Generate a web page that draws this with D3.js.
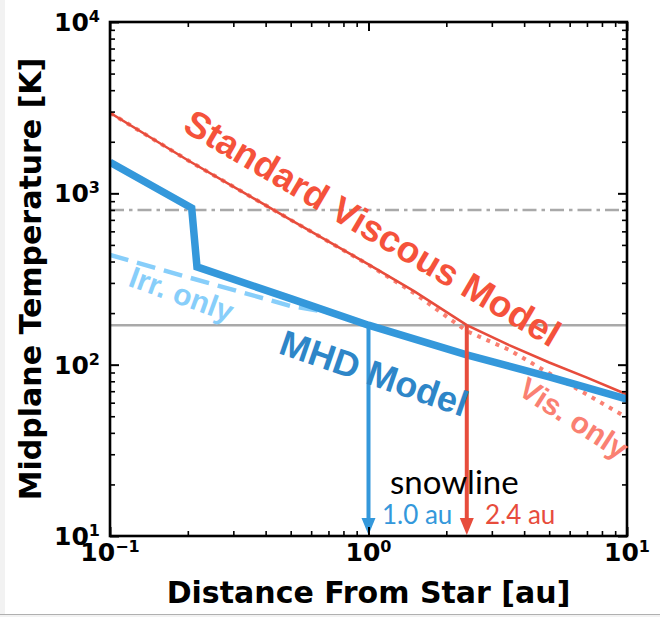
<!DOCTYPE html>
<html>
<head>
<meta charset="utf-8">
<script src="https://cdn.jsdelivr.net/npm/d3@7"></script>
<style>
  body { margin: 0; background: #fff; }
  svg { display: block; }
</style>
</head>
<body>
<div id="chart"></div>
<script>
var svgWidth = 660;
var svgHeight = 617;

var margin = { top: 22, right: 33, bottom: 81, left: 110 };
var width = svgWidth - margin.left - margin.right;
var height = svgHeight - margin.top - margin.bottom;

// data (distance in au, temperature in K)
var stdR = [0.1, 0.2, 0.5, 1, 1.5, 2.4, 3.5, 5, 7, 10];
var stdT = [2950, 1560, 700, 385, 269, 170, 130, 103, 84, 67];

var visR = [0.1, 0.2, 0.5, 1, 1.5, 2.4, 3.5, 5, 7, 10];
var visT = [2950, 1560, 700, 383, 262, 157, 122, 89, 67, 49];

var irrR = [0.1, 0.2, 0.5, 0.73, 1];
var irrT = [437, 324, 220, 200, 172];

var mhdR = [0.1, 0.207, 0.217, 0.5, 1, 2.4, 5, 10];
var mhdT = [1520, 820, 372, 243, 170, 114, 85, 63];

var refT = [800, 170];          // dash-dot, solid
var snowR = [1.0, 2.4];
var snowT = 170;
var snowLabels = ["1.0 au", "2.4 au"];

var xMajor = [0.1, 1, 10];
var xExp = ["\u22121", "0", "1"];
var yMajor = [10, 100, 1000, 10000];
var yExp = ["1", "2", "3", "4"];

var svg = d3.select("#chart")
    .append("svg")
    .attr("width", svgWidth)
    .attr("height", svgHeight);

// faint page edge like the screenshot
svg.append("rect").attr("x", 0).attr("y", 0).attr("width", 5).attr("height", svgHeight).attr("fill", "#f2f2f2");
svg.append("rect").attr("x", 0).attr("y", 614).attr("width", svgWidth).attr("height", 3).attr("fill", "#f2f2f2");
svg.append("line").attr("x1", 0).attr("x2", svgWidth).attr("y1", 614.5).attr("y2", 614.5)
    .attr("stroke", "#b0b0b0").attr("stroke-width", 1);

var chartGroup = svg.append("g")
    .attr("transform", `translate(${margin.left}, ${margin.top})`);

var x = d3.scaleLog().domain([0.1, 10]).range([0, width]);
var y = d3.scaleLog().domain([10, 10000]).range([height, 0]);

chartGroup.append("clipPath").attr("id", "clip")
    .append("rect").attr("width", width).attr("height", height);

var plot = chartGroup.append("g").attr("clip-path", "url(#clip)");

// minor tick values
var xMinor = [], yMinor = [];
[0.1, 1].forEach(function(d) { for (var k = 2; k < 10; k++) xMinor.push(d * k); });
[10, 100, 1000].forEach(function(d) { for (var k = 2; k < 10; k++) yMinor.push(d * k); });

function tickAxis(axisFn, scale, vals, size, sw, tr) {
    var g = chartGroup.append("g")
        .attr("transform", tr)
        .call(axisFn(scale).tickValues(vals).tickSize(-size).tickFormat(""));
    g.select(".domain").remove();
    g.selectAll(".tick line").attr("stroke", "#000").attr("stroke-width", sw);
}
tickAxis(d3.axisBottom, x, xMajor, 9, 2, `translate(0, ${height})`);
tickAxis(d3.axisBottom, x, xMinor, 5, 1.6, `translate(0, ${height})`);
tickAxis(d3.axisTop, x, xMajor, 9, 2, "translate(0, 0)");
tickAxis(d3.axisTop, x, xMinor, 5, 1.6, "translate(0, 0)");
tickAxis(d3.axisLeft, y, yMajor, 9, 2, "translate(0, 0)");
tickAxis(d3.axisLeft, y, yMinor, 5, 1.6, "translate(0, 0)");
tickAxis(d3.axisRight, y, yMajor, 9, 2, `translate(${width}, 0)`);
tickAxis(d3.axisRight, y, yMinor, 5, 1.6, `translate(${width}, 0)`);

// reference lines
plot.append("line")
    .attr("x1", 0).attr("x2", width)
    .attr("y1", y(refT[0])).attr("y2", y(refT[0]))
    .attr("stroke", "#a9a9a9").attr("stroke-width", 2.6)
    .attr("stroke-dasharray", "14,5,3.5,5");
plot.append("line")
    .attr("x1", 0).attr("x2", width)
    .attr("y1", y(refT[1])).attr("y2", y(refT[1]))
    .attr("stroke", "#a9a9a9").attr("stroke-width", 2.6);

var line = d3.line().x(d => x(d[0])).y(d => y(d[1]));

plot.append("path")
    .attr("d", line(d3.zip(visR, visT)))
    .attr("fill", "none").attr("stroke", "#fa8072")
    .attr("stroke-width", 4).attr("stroke-dasharray", "4,6");

plot.append("path")
    .attr("d", line(d3.zip(stdR, stdT)))
    .attr("fill", "none").attr("stroke", "#e74c3c")
    .attr("stroke-width", 2.6);

plot.append("path")
    .attr("d", line(d3.zip(irrR, irrT)))
    .attr("fill", "none").attr("stroke", "#87cefa")
    .attr("stroke-width", 4.5).attr("stroke-dasharray", "19,9");

plot.append("path")
    .attr("d", line(d3.zip(mhdR, mhdT)))
    .attr("fill", "none").attr("stroke", "#3498db")
    .attr("stroke-width", 7.5).attr("stroke-linejoin", "miter");

// snowline arrows
var snowColors = ["#3498db", "#e74c3c"];
snowR.forEach(function(r, i) {
    var sx = x(r);
    plot.append("line")
        .attr("x1", sx).attr("x2", sx)
        .attr("y1", y(snowT)).attr("y2", height - 16)
        .attr("stroke", snowColors[i]).attr("stroke-width", 4);
    plot.append("path")
        .attr("d", `M${sx - 7},${height - 18} L${sx + 7},${height - 18} L${sx},${height - 1} Z`)
        .attr("fill", snowColors[i]);
});

// frame
chartGroup.append("rect")
    .attr("width", width).attr("height", height)
    .attr("fill", "none").attr("stroke", "#000").attr("stroke-width", 2.6);

// tick labels
var tickFont = "'DejaVu Sans', sans-serif";
xMajor.forEach(function(v, i) {
    var t = chartGroup.append("text")
        .attr("x", x(v)).attr("y", height + 25)
        .attr("text-anchor", "middle")
        .style("font-family", tickFont).style("font-weight", "bold").style("font-size", "25px");
    t.append("tspan").text("10");
    t.append("tspan").attr("dy", -9).style("font-size", "16px").text(xExp[i]);
});
yMajor.forEach(function(v, i) {
    var t = chartGroup.append("text")
        .attr("x", -10).attr("y", y(v) + 9)
        .attr("text-anchor", "end")
        .style("font-family", tickFont).style("font-weight", "bold").style("font-size", "25px");
    t.append("tspan").text("10");
    t.append("tspan").attr("dy", -9).style("font-size", "16px").text(yExp[i]);
});

// axis titles
chartGroup.append("text")
    .attr("x", width / 2).attr("y", height + 67)
    .attr("text-anchor", "middle")
    .style("font-family", tickFont).style("font-weight", "bold").style("font-size", "30px")
    .text("Distance From Star [au]");

chartGroup.append("text")
    .attr("transform", `translate(${41 - margin.left}, ${height / 2}) rotate(-90)`)
    .attr("text-anchor", "middle")
    .style("font-family", tickFont).style("font-weight", "bold").style("font-size", "30px")
    .text("Midplane Temperature [K]");

// curve annotations
var annoFont = "'Liberation Sans', Arial, sans-serif";
function anno(txt, cx, cy, ang, size, color) {
    svg.append("text")
        .attr("transform", `translate(${cx}, ${cy}) rotate(${ang})`)
        .attr("text-anchor", "middle")
        .style("font-family", annoFont).style("font-weight", "bold")
        .style("font-size", size + "px")
        .attr("fill", color)
        .text(txt);
}
anno("Standard Viscous Model", 366, 239, 30.5, 37, "#f5523b");
anno("MHD Model", 370, 385, 19, 36, "#2e86c8");
anno("Irr. only", 178, 304, 20, 30, "#87cefa");
anno("Vis. only", 568, 427, 33, 30, "#fa8072");

// snowline text
var snowFont = "Lato, 'Open Sans', sans-serif";
svg.append("text")
    .attr("x", 390).attr("y", 494)
    .style("font-family", snowFont).style("font-size", "33px")
    .attr("fill", "#000")
    .text("snowline");
snowLabels.forEach(function(s, i) {
    svg.append("text")
        .attr("x", [382, 485][i]).attr("y", 524)
        .style("font-family", snowFont).style("font-size", "26px")
        .attr("fill", snowColors[i])
        .text(s);
});
</script>
</body>
</html>
